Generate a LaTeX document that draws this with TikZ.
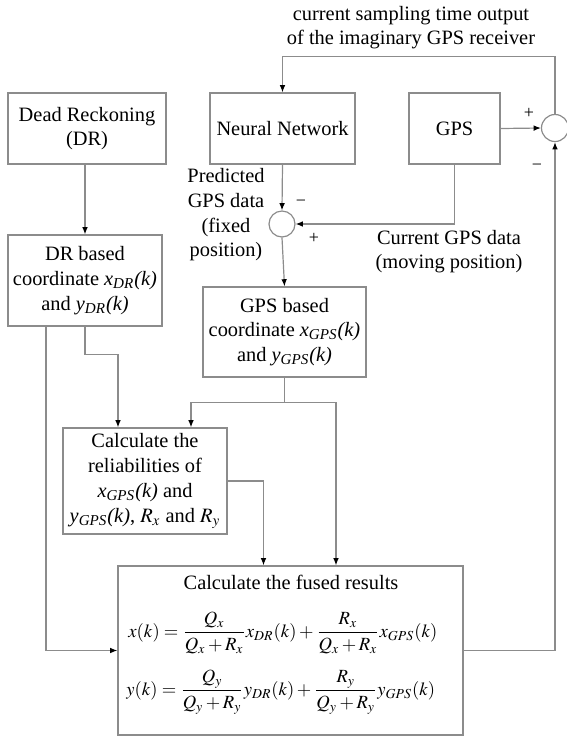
\documentclass[tikz,border=0pt]{standalone}
\usepackage{mathptmx}
\usepackage{fontspec}
\setmainfont{Liberation Serif}
\usetikzlibrary{arrows.meta,calc}

% italic variable with subscript and (k)
\newcommand{\vsub}[2]{\textit{#1}\textsubscript{\textit{#2}}\textit{(k)}}

\tikzset{
  block/.style={draw=black!45,line width=0.6pt,inner sep=0pt,align=center},
  junction/.style={draw=black!45,line width=0.6pt,circle,minimum size=13.5pt,inner sep=0pt},
  wire/.style={draw=black!45,line width=0.6pt},
  feed/.style={wire,-{Latex[color=black,length=3.6pt,width=2.8pt]}},
  sign/.style={inner sep=0pt,font=\fontsize{9}{10}\selectfont},
  formula/.style={anchor=west,inner sep=0pt,font=\fontsize{9.3}{11}\selectfont},
}

\begin{document}
\begin{tikzpicture}[x=0.5pt,y=-0.5pt,every node/.style={font=\fontsize{10.2}{12.35}\selectfont}]
    \useasboundingbox (0,0) rectangle (567,736);

    % blocks
    \node[block,minimum width=79pt,minimum height=35.5pt] (dr) at (87,128.5) {Dead Reckoning\\(DR)};
    \node[block,minimum width=72.5pt,minimum height=35.5pt] (nn) at (282.5,128.5) {Neural Network};
    \node[block,minimum width=45.5pt,minimum height=35.5pt] (gps) at (454.5,128.5) {GPS};
    \node[junction] (sumr) at (555,128) {};
    \node[junction,minimum size=13pt] (suml) at (282,224) {};
    \node[block,minimum width=77pt,minimum height=45.5pt] (drc) at (85,280.5)
        {DR based\\coordinate \vsub{x}{DR}\\and \vsub{y}{DR}};
    \node[block,minimum width=81.5pt,minimum height=45pt] (gpsc) at (284.5,332)
        {GPS based\\coordinate \vsub{x}{GPS}\\and \vsub{y}{GPS}};
    \node[block,minimum width=82pt,minimum height=53pt] (rel) at (145,481)
        {Calculate the\\reliabilities of\\\vsub{x}{GPS} and\\\vsub{y}{GPS}, $R_x$ and $R_y$};
    \node[block,minimum width=172.5pt,minimum height=84.5pt] (fus) at (290.5,650.5) {};
    \node (fustitle) at (291,582) {Calculate the fused results};
    \node[formula] (fusx) at (128,633)
        {$\displaystyle x(k)=\frac{Q_x}{Q_x+R_x}x_{DR}(k)+\frac{R_x}{Q_x+R_x}x_{GPS}(k)$};
    \node[formula] (fusy) at (126,692)
        {$\displaystyle y(k)=\frac{Q_y}{Q_y+R_y}y_{DR}(k)+\frac{R_y}{Q_y+R_y}y_{GPS}(k)$};

    % labels
    \node[align=center] (toplabel) at (411,27.5) {current sampling time output\\of the imaginary GPS receiver};
    \node[align=center] (predlabel) at (226,215) {Predicted\\GPS data\\(fixed\\position)};
    \node[align=center] (curlabel) at (449,251.5) {Current GPS data\\(moving position)};
    \node[sign] (plusr) at (529,113) {+};
    \node[sign] (minusr) at (537,167) {−};
    \node[sign] (minusl) at (301,203) {−};
    \node[sign] (plusl) at (314,238) {+};

    % connectors
    \draw[feed] (drc.north |- dr.south) -- (drc.north);
    \draw[feed] (sumr.north) -- ++(0,-57.5) -| (nn.north);
    \draw[feed] (nn.south) -- (suml.north);
    \draw[feed] (gps.south) |- (suml.east);
    \draw[feed] (gps.east) -- (sumr.west);
    \draw[feed] (suml.south) -- (gpsc.north);
    \coordinate (split) at ($(gpsc.south)+(0,25)$);
    \draw[wire] (gpsc.south) -- (split);
    \draw[feed] (split) -| ($(rel.north)+(46,0)$);
    \draw[feed] (split) -| ($(fus.north)+(45.5,0)$);
    \draw[feed] (drc.south) -- ++(0,28) -| ($(rel.north)+(-27,0)$);
    \draw[feed] ($(drc.south)+(-39,0)$) |- (fus.west);
    \draw[feed] (rel.east) -| ($(fus.north)+(-27,0)$);
    \draw[feed] (fus.east) -| (sumr.south);
\end{tikzpicture}
\end{document}
